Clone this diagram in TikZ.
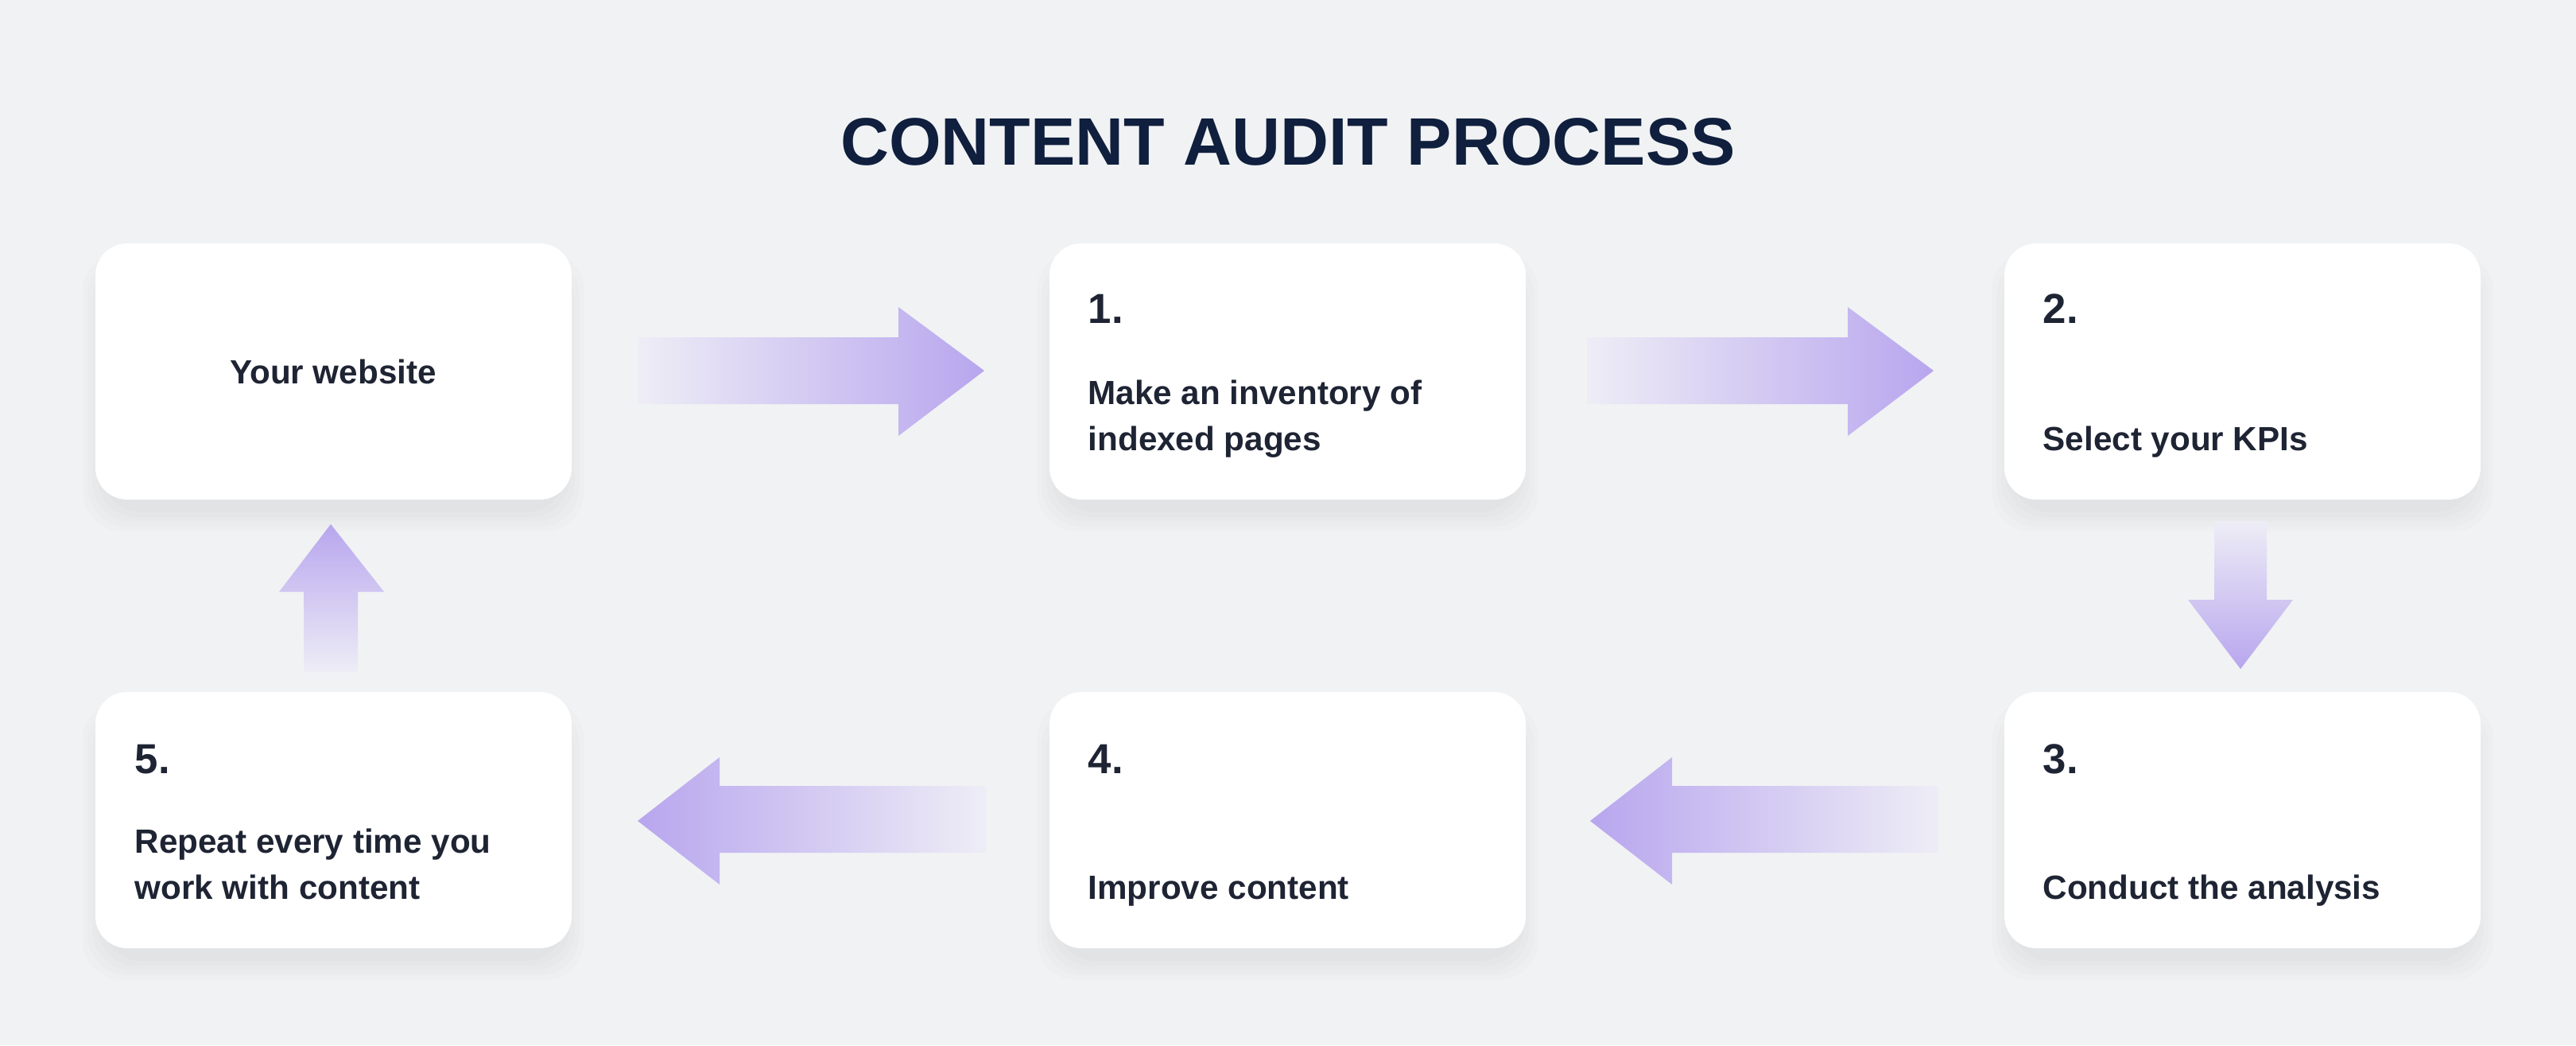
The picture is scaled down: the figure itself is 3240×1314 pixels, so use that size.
\documentclass[tikz,border=0pt]{standalone}
\usepackage{fontspec}
\setmainfont{Liberation Sans}
\definecolor{bg}{HTML}{F1F2F4}
\definecolor{navy}{HTML}{0F1F3D}
\definecolor{ink}{HTML}{1E2433}
\definecolor{arr}{HTML}{B8A6EE}
\definecolor{arrtail}{HTML}{EEEDF6}
\begin{document}
\begin{tikzpicture}[x=0.01cm,y=-0.01cm,
  card/.style={fill=white,rounded corners=0.4cm},
  num/.style={anchor=base west,font=\fontsize{15}{18}\selectfont\bfseries,text=ink,inner sep=0},
  lbl/.style={anchor=base west,font=\fontsize{12}{15}\selectfont\bfseries,text=ink,inner sep=0}]
\fill[bg] (0,0) rectangle (3240,1314);
\node[font=\fontsize{24}{28}\selectfont\bfseries,text=navy] (title) at (1620,178) {CONTENT AUDIT PROCESS};
% shadows and cards
\foreach \x/\y/\n in {120/306/b0,1320/306/b1,2521/306/b2,120/870/b5,1320/870/b4,2521/870/b3}{
  \foreach \d in {30,24,18,12,6}{
    \fill[black,opacity=0.012,rounded corners=0.5cm] (\x-\d+14,\y-\d+40) rectangle (\x+599+\d-14,\y+322+\d+10);
  }
  \path[card] (\x,\y) rectangle (\x+599,\y+322);
  \coordinate (\n) at (\x,\y);
}
\node[font=\fontsize{12}{15}\selectfont\bfseries,text=ink] (t0) at (419,467) {Your website};
\node[num] (n1) at (1368,406) {1.};
\node[lbl] (t1a) at (1368,508) {Make an inventory of};
\node[lbl] (t1b) at (1368,566) {indexed pages};
\node[num] (n2) at (2569,406) {2.};
\node[lbl] (t2) at (2569,566) {Select your KPIs};
\node[num] (n3) at (2569,972) {3.};
\node[lbl] (t3) at (2569,1130) {Conduct the analysis};
\node[num] (n4) at (1368,972) {4.};
\node[lbl] (t4) at (1368,1130) {Improve content};
\node[num] (n5) at (169,972) {5.};
\node[lbl] (t5a) at (169,1072) {Repeat every time you};
\node[lbl] (t5b) at (169,1130) {work with content};
% right arrows
\foreach \a in {802,1996}{
  \shade[left color=arrtail,right color=arr] (\a,424) -- (\a+328,424) -- (\a+328,386) -- (\a+436,466) -- (\a+328,548) -- (\a+328,508) -- (\a,508) -- cycle;
}
% left arrows
\foreach \a in {802,2000}{
  \shade[right color=arrtail,left color=arr] (\a+438,988) -- (\a+103,988) -- (\a+103,952) -- (\a,1032) -- (\a+103,1112) -- (\a+103,1072) -- (\a+438,1072) -- cycle;
}
% down arrow
\shade[top color=arrtail,bottom color=arr] (2785,655) -- (2851,655) -- (2851,754) -- (2884,754) -- (2818,841) -- (2752,754) -- (2785,754) -- cycle;
% up arrow
\shade[bottom color=arrtail,top color=arr] (382,845) -- (450,845) -- (450,744) -- (483,744) -- (416,659) -- (351,744) -- (382,744) -- cycle;
\end{tikzpicture}
\end{document}
